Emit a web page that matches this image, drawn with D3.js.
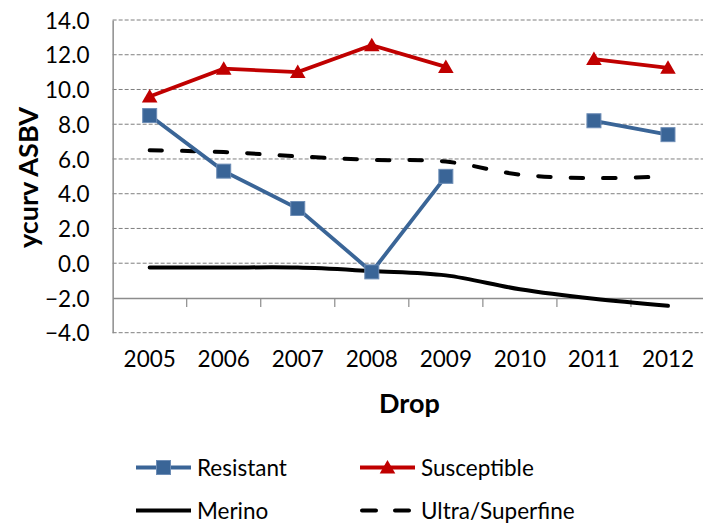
<!DOCTYPE html>
<html>
<head>
<meta charset="utf-8">
<script src="https://cdn.jsdelivr.net/npm/d3@7"></script>
<style>
  html, body { margin: 0; padding: 0; background: #fff; }
  svg { display: block; }
  text { font-family: Lato, "Open Sans", sans-serif; fill: #000; }
</style>
</head>
<body>
<svg id="chart" width="703" height="523"></svg>
<script>
// Drop years along the category axis
const years = ["2005", "2006", "2007", "2008", "2009", "2010", "2011", "2012"];
// ycurv ASBV by drop for each flock group (null = no data)
const resistant   = [8.5, 5.3, 3.15, -0.5, 5.0, null, 8.2, 7.4];
const susceptible = [9.6, 11.2, 11.0, 12.55, 11.3, null, 11.75, 11.25];
const merino      = [-0.25, -0.25, -0.25, -0.45, -0.7, -1.5, -2.05, -2.45];
const ultraSuper  = [6.5, 6.4, 6.15, 5.95, 5.85, 5.1, 4.9, 5.0];
// Value-axis tick labels
const yTicks = [-4, -2, 0, 2, 4, 6, 8, 10, 12, 14];

const svg = d3.select("#chart");

const x = d3.scaleBand().domain(years).range([112.65, 705]).padding(0);
const y = d3.scaleLinear().domain([-4, 14]).range([332.7, 20]);
const cx = d => x(d) + x.bandwidth() / 2;

// Horizontal dashed gridlines (the -2 line is the category axis)
svg.append("g")
  .selectAll("line")
  .data(yTicks.filter(v => v !== -2))
  .join("line")
  .attr("x1", x.range()[0]).attr("x2", x.range()[1])
  .attr("y1", d => y(d)).attr("y2", d => y(d))
  .attr("stroke", "#7f7f7f").attr("stroke-width", 1)
  .attr("stroke-dasharray", "4,2");

// Value axis
const yAxis = d3.axisLeft(y).tickValues(yTicks).tickSize(0).tickPadding(0)
  .tickFormat(d3.format(".1f"));
const gy = svg.append("g").attr("transform", `translate(${x.range()[0]},0)`).call(yAxis);
gy.select(".domain").attr("stroke", "#8c8c8c").attr("stroke-width", 1.5);
gy.selectAll("text")
  .attr("x", 89.5 - x.range()[0])
  .attr("dy", "0.36em")
  .style("font-size", "22.5px")
  .style("font-family", "Lato, sans-serif");

// Category axis crossing at -2.0, ticks between categories
const xAxis = d3.axisBottom(x).tickSize(0).tickPadding(0);
const gx = svg.append("g").attr("transform", `translate(0,${y(-2)})`).call(xAxis);
gx.select(".domain").attr("stroke", "#8c8c8c").attr("stroke-width", 1.5);
gx.selectAll(".tick line").remove();
gx.selectAll("text")
  .attr("y", y(-4) - y(-2) + 26)
  .attr("dy", "0.36em")
  .style("font-size", "22.5px")
  .style("font-family", "Lato, sans-serif");
// Tick marks at category boundaries
gx.append("g")
  .selectAll("line")
  .data(years.slice(1))
  .join("line")
  .attr("x1", d => x(d)).attr("x2", d => x(d))
  .attr("y1", 0).attr("y2", 9)
  .attr("stroke", "#8c8c8c").attr("stroke-width", 1.2);

// Axis titles
svg.append("text")
  .attr("transform", `translate(38,177.5) rotate(-90)`)
  .attr("text-anchor", "middle")
  .style("font-size", "27px").style("font-weight", "bold")
  .text("ycurv ASBV");
svg.append("text")
  .attr("x", 409.5).attr("y", 413)
  .attr("text-anchor", "middle")
  .style("font-size", "27px").style("font-weight", "bold")
  .text("Drop");

const lineGen = d3.line()
  .defined(d => d.v !== null)
  .x(d => cx(d.k))
  .y(d => y(d.v));
const smoothGen = d3.line()
  .x(d => cx(d.k))
  .y(d => y(d.v))
  .curve(d3.curveCatmullRom.alpha(0));
const pts = arr => years.map((k, i) => ({ k, v: arr[i] }));

const BLUE = "#3a6597", RED = "#c00000";

// Merino (solid, smoothed)
svg.append("path").datum(pts(merino))
  .attr("d", smoothGen).attr("fill", "none")
  .attr("stroke", "#000").attr("stroke-width", 4).attr("stroke-linecap", "round");
// Ultra/Superfine (dashed, smoothed)
svg.append("path").datum(pts(ultraSuper))
  .attr("d", smoothGen).attr("fill", "none")
  .attr("stroke", "#000").attr("stroke-width", 4).attr("stroke-linecap", "round")
  .attr("stroke-dasharray", "12.5,20");

// Resistant
svg.append("path").datum(pts(resistant))
  .attr("d", lineGen).attr("fill", "none")
  .attr("stroke", BLUE).attr("stroke-width", 3.8);
svg.append("g").selectAll("rect")
  .data(pts(resistant).filter(d => d.v !== null))
  .join("rect")
  .attr("x", d => cx(d.k) - 7).attr("y", d => y(d.v) - 7)
  .attr("width", 14).attr("height", 14)
  .attr("fill", BLUE).attr("stroke", "#6d8db6").attr("stroke-width", 1);

// Susceptible
svg.append("path").datum(pts(susceptible))
  .attr("d", lineGen).attr("fill", "none")
  .attr("stroke", RED).attr("stroke-width", 3.8);
const tri = "M0,-7.5L7.8,6L-7.8,6Z";
svg.append("g").selectAll("path")
  .data(pts(susceptible).filter(d => d.v !== null))
  .join("path")
  .attr("transform", d => `translate(${cx(d.k)},${y(d.v)})`)
  .attr("d", tri).attr("fill", RED);

// Legend
const legend = svg.append("g");
const rows = [
  { name: "Resistant", x0: 136, y0: 467.5, color: BLUE, marker: "square" },
  { name: "Susceptible", x0: 360, y0: 467.5, color: RED, marker: "triangle" },
  { name: "Merino", x0: 136, y0: 510.5, color: "#000", marker: "none" },
  { name: "Ultra/Superfine", x0: 360, y0: 510.5, color: "#000", marker: "dash" }
];
rows.forEach(r => {
  const g = legend.append("g").attr("transform", `translate(${r.x0},${r.y0})`);
  if (r.marker === "dash") {
    g.append("line").attr("x1", 2).attr("x2", 52).attr("y1", 0).attr("y2", 0)
      .attr("stroke", r.color).attr("stroke-width", 4).attr("stroke-linecap", "round")
      .attr("stroke-dasharray", "14,19");
  } else {
    g.append("line").attr("x1", 0).attr("x2", 55).attr("y1", 0).attr("y2", 0)
      .attr("stroke", r.color).attr("stroke-width", r.marker === "none" ? 4 : 3.8);
  }
  if (r.marker === "square") {
    g.append("rect").attr("x", 20.5).attr("y", -7).attr("width", 14).attr("height", 14)
      .attr("fill", BLUE).attr("stroke", "#6d8db6");
  } else if (r.marker === "triangle") {
    g.append("path").attr("transform", "translate(27.5,0)").attr("d", tri).attr("fill", RED);
  }
  g.append("text").attr("x", 61).attr("y", 0).attr("dy", "0.36em")
    .style("font-size", "22.5px").text(r.name);
});
</script>
</body>
</html>
